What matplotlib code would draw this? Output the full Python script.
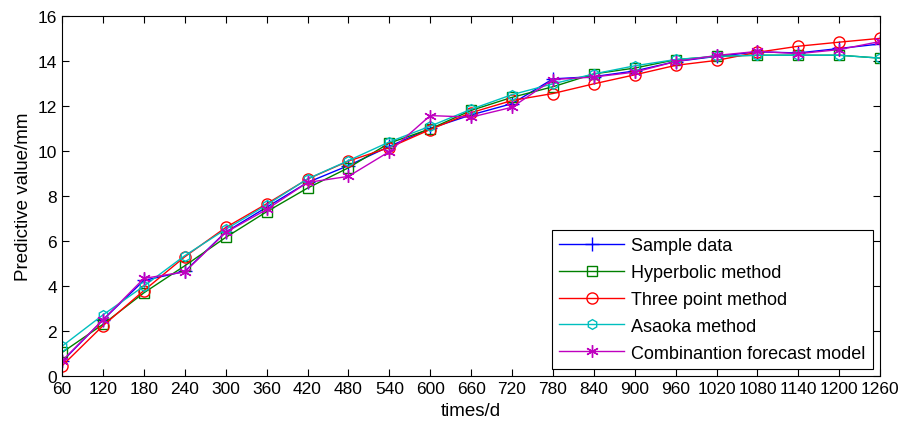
import numpy as np
import matplotlib.pyplot as plt

plt.rcParams['font.family'] = ['Liberation Sans', 'DejaVu Sans']

# time axis (days)
days = list(range(60, 1261, 60))

sample = [0.65, 2.5, 4.25, 4.65, 6.4, 7.5, 8.6, 9.35, 10.2, 11.0, 11.6, 12.1,
          13.2, 13.3, 13.55, 13.97, 14.2, 14.4, 14.35, 14.55, 14.75]
hyperbolic = [1.05, 2.3, 3.7, 4.9, 6.16, 7.3, 8.35, 9.25, 10.35, 10.98, 11.8, 12.38,
              12.85, 13.42, 13.68, 14.05, 14.2, 14.25, 14.25, 14.25, 14.12]
three_point = [0.46, 2.24, 3.8, 5.3, 6.6, 7.65, 8.75, 9.55, 10.15, 10.95, 11.7, 12.24,
               12.55, 12.98, 13.38, 13.8, 14.02, 14.38, 14.65, 14.83, 15.0]
asaoka = [1.33, 2.72, 4.0, 5.35, 6.52, 7.6, 8.76, 9.57, 10.4, 11.1, 11.85, 12.5,
          12.98, 13.42, 13.78, 14.06, 14.2, 14.25, 14.25, 14.25, 14.12]
combination = [0.68, 2.5, 4.34, 4.63, 6.38, 7.4, 8.6, 8.87, 9.97, 11.57, 11.5, 11.94,
               13.17, 13.28, 13.5, 13.97, 14.24, 14.42, 14.32, 14.5, 14.86]

fig = plt.figure(figsize=(9, 4.31), dpi=100)
ax = fig.add_axes([0.069, 0.125, 0.909, 0.836])

ax.plot(days, sample, color='#0000ff', marker='+', ms=10, lw=1, label='Sample data')
ax.plot(days, hyperbolic, color='#008000', marker='s', ms=7, mfc='none', lw=1,
        label='Hyperbolic method')
ax.plot(days, three_point, color='#ff0000', marker='o', ms=8, mfc='none', lw=1,
        label='Three point method')
ax.plot(days, asaoka, color='#00bfbf', marker='h', ms=7, mfc='none', lw=1,
        label='Asaoka method')
ax.plot(days, combination, color='#bf00bf', marker=(6, 2, 0), ms=9, lw=1,
        label='Combinantion forecast model')

ax.set_xlim(60, 1260)
ax.set_ylim(0, 16)
ax.set_xticks(days)
ax.set_yticks(range(0, 17, 2))
ax.tick_params(direction='in', top=True, right=True, length=5, labelsize=12.5)
ax.set_xlabel('times/d', fontsize=13.5)
ax.set_ylabel('Predictive value/mm', fontsize=13.5)

leg = ax.legend(loc='lower right', fontsize=13, fancybox=False, edgecolor='black',
                framealpha=1, borderaxespad=0.4, handlelength=3.6, handletextpad=0.4,
                labelspacing=0.55)
leg.get_frame().set_linewidth(0.8)

plt.savefig('out.png', dpi=100)
